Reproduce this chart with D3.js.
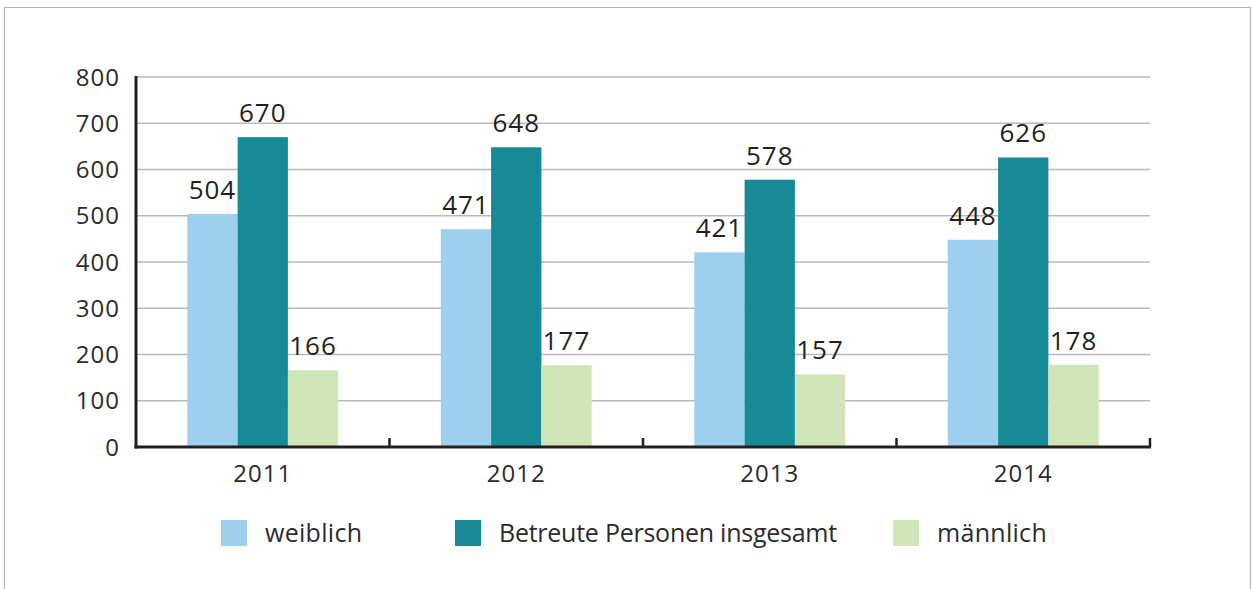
<!DOCTYPE html>
<html>
<head>
<meta charset="utf-8">
<script src="https://cdn.jsdelivr.net/npm/d3@7"></script>
<style>
  html, body { margin: 0; padding: 0; background: #fff; }
  svg { display: block; font-family: "Open Sans", sans-serif; }
</style>
</head>
<body>
<svg id="chart" width="1252" height="589"></svg>
<script>
// Betreute Personen 2011–2014, grouped bars
const years = ["2011", "2012", "2013", "2014"];
const seriesNames = ["weiblich", "Betreute Personen insgesamt", "männlich"];
const weiblich = [504, 471, 421, 448];
const insgesamt = [670, 648, 578, 626];
const maennlich = [166, 177, 157, 178];
const yTicks = [0, 100, 200, 300, 400, 500, 600, 700, 800];

const colors = ["#9dcfef", "#168a96", "#cfe5b9"];
const values = [weiblich, insgesamt, maennlich];

const rows = years.map((yr, i) => ({
  year: yr,
  bars: seriesNames.map((s, k) => ({ key: s, value: values[k][i] }))
}));

const svg = d3.select("#chart");
const margin = { top: 77, right: 102, bottom: 142, left: 136 };
const W = 1252, H = 589;
const innerW = W - margin.left - margin.right;
const innerH = H - margin.top - margin.bottom;

// frame (no bottom edge)
svg.append("path")
  .attr("d", `M4.5,${H} V7.5 H1250.5 V${H}`)
  .attr("fill", "none")
  .attr("stroke", "#b4b4b4")
  .attr("stroke-width", 1.2);

const g = svg.append("g").attr("transform", `translate(${margin.left},${margin.top})`);

const x0 = d3.scaleBand().domain(years).range([0, innerW]).padding(0);
const x1 = d3.scaleBand().domain(seriesNames).range([0, x0.bandwidth()])
  .paddingInner(0).paddingOuter(1.02);
const y = d3.scaleLinear().domain([0, 800]).range([innerH, 0]);

// gridlines
g.append("g")
  .selectAll("line")
  .data(yTicks.filter(t => t > 0))
  .join("line")
  .attr("x1", 0).attr("x2", innerW)
  .attr("y1", d => y(d)).attr("y2", d => y(d))
  .attr("stroke", "#b9b9b9")
  .attr("stroke-width", 1.5);

// y tick labels
g.append("g")
  .selectAll("text")
  .data(yTicks)
  .join("text")
  .attr("x", -16)
  .attr("y", d => y(d))
  .attr("dy", "0.36em")
  .attr("text-anchor", "end")
  .attr("font-size", 24)
  .attr("letter-spacing", 1)
  .attr("fill", "#2b2b2b")
  .text(d => d);

// bars
const grp = g.selectAll(".grp")
  .data(rows)
  .join("g")
  .attr("class", "grp")
  .attr("transform", d => `translate(${x0(d.year)},0)`);

grp.selectAll("rect")
  .data(d => d.bars)
  .join("rect")
  .attr("x", d => x1(d.key))
  .attr("y", d => y(d.value))
  .attr("width", x1.bandwidth())
  .attr("height", d => y(0) - y(d.value))
  .attr("fill", (d, i) => colors[i]);

grp.selectAll(".val")
  .data(d => d.bars)
  .join("text")
  .attr("class", "val")
  .attr("x", d => x1(d.key) + x1.bandwidth() / 2)
  .attr("y", d => y(d.value) - 15)
  .attr("text-anchor", "middle")
  .attr("font-size", 26)
  .attr("font-weight", 500)
  .attr("letter-spacing", 1)
  .attr("fill", "#231f20")
  .text(d => d.value);

// axes lines
g.append("line")
  .attr("x1", 0).attr("x2", 0)
  .attr("y1", y(800) - 1).attr("y2", y(0) + 1.5)
  .attr("stroke", "#231f20").attr("stroke-width", 3);

g.append("line")
  .attr("x1", -1.5).attr("x2", innerW + 1)
  .attr("y1", y(0)).attr("y2", y(0))
  .attr("stroke", "#231f20").attr("stroke-width", 3);

// category boundary ticks
const bounds = years.map(yr => x0(yr)).slice(1).concat([innerW]);
g.append("g")
  .selectAll("line")
  .data(bounds)
  .join("line")
  .attr("x1", d => d).attr("x2", d => d)
  .attr("y1", y(0)).attr("y2", y(0) - 9)
  .attr("stroke", "#231f20").attr("stroke-width", 2.5);

// category labels
g.append("g")
  .selectAll("text")
  .data(years)
  .join("text")
  .attr("x", d => x0(d) + x0.bandwidth() / 2)
  .attr("y", y(0) + 35)
  .attr("text-anchor", "middle")
  .attr("font-size", 24)
  .attr("letter-spacing", 1)
  .attr("fill", "#2b2b2b")
  .text(d => d);

// legend
const legendX = [221, 455, 893];
const legend = svg.append("g").attr("transform", "translate(0,520)");
seriesNames.forEach((s, i) => {
  const item = legend.append("g").attr("transform", `translate(${legendX[i]},0)`);
  item.append("rect").attr("width", 26).attr("height", 26).attr("fill", colors[i]);
  item.append("text")
    .attr("x", 44).attr("y", 22)
    .attr("font-size", 25)
    .attr("letter-spacing", s.length > 12 ? -0.25 : 0.3)
    .attr("fill", "#2b2b2b")
    .text(s);
});
</script>
</body>
</html>
